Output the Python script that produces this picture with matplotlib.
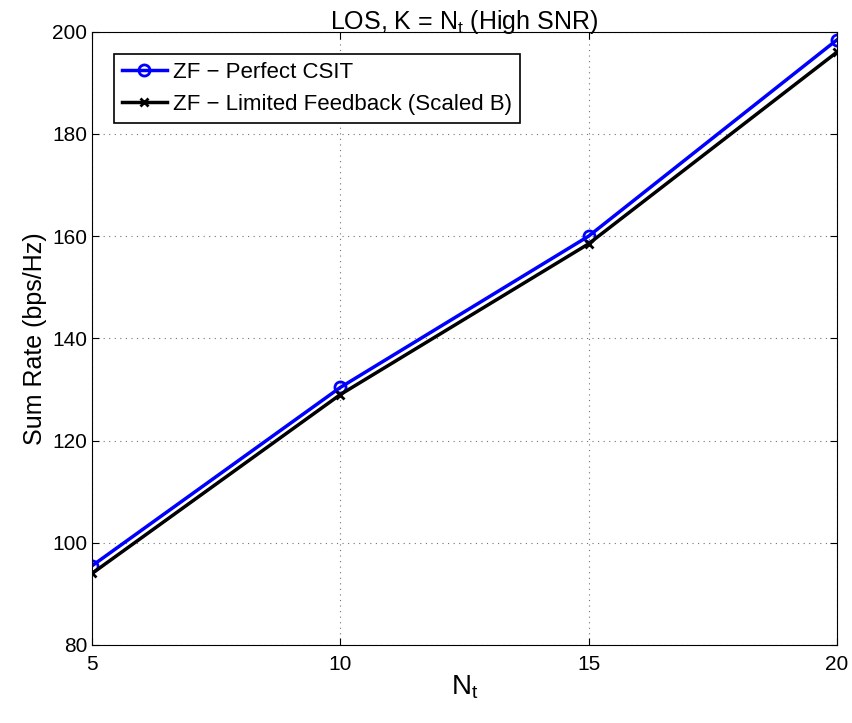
import matplotlib.pyplot as plt
import numpy as np

plt.rcParams['font.family'] = ['Liberation Sans', 'DejaVu Sans']
plt.rcParams['mathtext.fontset'] = 'custom'
plt.rcParams['mathtext.rm'] = 'Liberation Sans'
plt.rcParams['mathtext.it'] = 'Liberation Sans'

# Data
n_t = [5, 10, 15, 20]
perfect_csit = [95.5, 130.4, 160.0, 198.4]
limited_feedback = [94.0, 129.0, 158.5, 196.0]

fig = plt.figure(figsize=(8.53, 7.23), dpi=100)
ax = fig.add_axes([0.108, 0.108, 0.873, 0.848])

ax.plot(n_t, perfect_csit, color='blue', linewidth=2.5, marker='o',
        markersize=8, markerfacecolor='none', markeredgewidth=2,
        label='ZF \u2212 Perfect CSIT')
ax.plot(n_t, limited_feedback, color='black', linewidth=2.5, marker='x',
        markersize=6, markeredgewidth=2,
        label='ZF \u2212 Limited Feedback (Scaled B)')

ax.set_xlim(5, 20)
ax.set_ylim(80, 200)
ax.set_xticks([5, 10, 15, 20])
ax.set_yticks(np.arange(80, 201, 20))
ax.tick_params(direction='in', labelsize=15, top=True, right=True, length=5)
ax.tick_params(axis='x', pad=7)
ax.grid(True, linestyle=(0, (1, 4)), color='0.45', linewidth=0.8)

ax.set_xlabel('N$_\\mathregular{t}$', fontsize=20, labelpad=0)
ax.set_ylabel('Sum Rate (bps/Hz)', fontsize=18)
ax.set_title('LOS, K = N$_\\mathregular{t}$ (High SNR)', fontsize=18, pad=2)

leg = ax.legend(loc='upper left', fontsize=16, fancybox=False, framealpha=1,
                edgecolor='black', handlelength=2.0, handletextpad=0.3,
                borderaxespad=1.0, borderpad=0.35)
leg.get_frame().set_linewidth(1.2)

fig.savefig('out.png', dpi=100)
